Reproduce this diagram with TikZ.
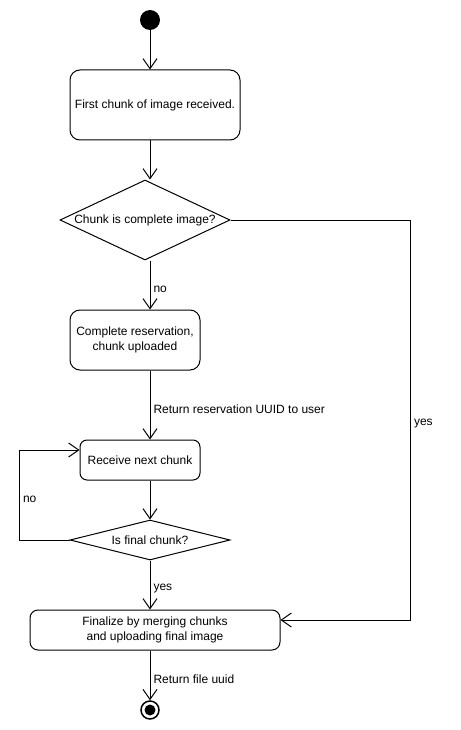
\documentclass[tikz,border=0pt]{standalone}
\usepackage{fontspec}
\setmainfont{Liberation Sans}
\usetikzlibrary{shapes.geometric, arrows.meta}

\begin{document}
\begin{tikzpicture}[x=1pt, y=-1pt, line width=1pt, font=\fontsize{12}{14.5}\selectfont]
                \tikzstyle{roundrect} = [rectangle, rounded corners=10pt, draw=black, align=center]
                \tikzstyle{decision} = [diamond, draw=black, inner sep=0pt, text centered]
                \tikzstyle{initialstate} = [circle, fill=black, minimum size=20pt, inner sep=0pt]
                \tikzstyle{finalstate} = [circle, draw=black, line width=1.5pt, minimum size=18pt, inner sep=0pt]

                \tikzstyle{arrow} = [->, >={Straight Barb[length=10pt,width=14pt]}]
                \tikzstyle{edgelabel} = [anchor=west, inner sep=3pt, yshift=-4pt]
                \useasboundingbox (0,0) rectangle (460,730);
                \node (start) [initialstate] at (150,20) {};
                \node (firstchunk) [roundrect, minimum width=170pt, minimum height=70pt] at (155,105) {First chunk of image received.};
                \node (complete) [decision, aspect=2.125, minimum width=170pt, minimum height=80pt] at (145,220) {Chunk is complete image?};
                \node (reserve) [roundrect, minimum width=130pt, minimum height=60pt] at (135,340) {Complete reservation,\\chunk uploaded};
                \node (nextchunk) [roundrect, rounded corners=7pt, minimum width=120pt, minimum height=40pt] at (140,460) {Receive next chunk};
                \node (final) [decision, aspect=4, minimum width=160pt, minimum height=40pt] at (150,540) {Is final chunk?};
                \node (finalize) [roundrect, rounded corners=8pt, minimum width=250pt, minimum height=40pt] at (155,630) {Finalize by merging chunks\\and uploading final image};
                \node (stop) [finalstate] at (150,710) {};
                \node (stopdot) [circle, fill=black, minimum size=11pt, inner sep=0pt] at (stop) {};

                \draw [arrow] (start) -- (start |- firstchunk.north);
                \draw [arrow] (firstchunk.south -| start) -- (start |- complete.north);
                \draw [arrow] (complete.south -| start) -- node[edgelabel] {no} (start |- reserve.north);
                \draw [arrow] (reserve.south -| start) -- node[edgelabel] {Return reservation UUID to user} (start |- nextchunk.north);
                \draw [arrow] (nextchunk.south -| start) -- (final.north);
                \draw [arrow] (final.south) -- node[edgelabel] {yes} (start |- finalize.north);
                \draw [arrow] (finalize.south -| start) -- node[edgelabel] {Return file uuid} (stop);
                \draw [arrow] (complete.east) -- ++(180,0) |- node[pos=0.25, edgelabel] {yes} ([yshift=10pt]finalize.east);
                \draw [arrow] (final.west) -- ++(-50,0) |- node[pos=0.25, edgelabel] {no} ([yshift=10pt]nextchunk.west);
            \end{tikzpicture}
\end{document}
